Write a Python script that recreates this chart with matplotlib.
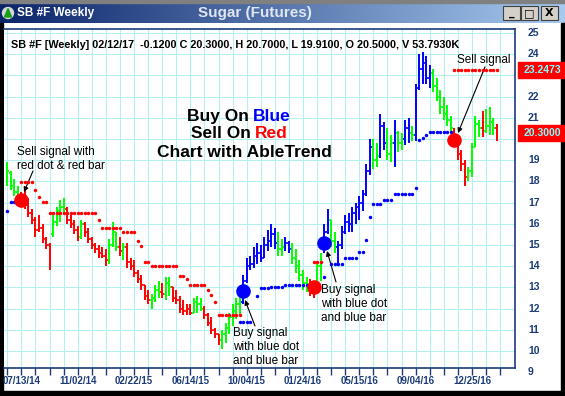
import numpy as np
import matplotlib
matplotlib.use('Agg')
import matplotlib.pyplot as plt
from matplotlib.patches import Rectangle, Circle, Polygon
import matplotlib.transforms as mtransforms

plt.rcParams['font.family'] = ['Liberation Sans', 'DejaVu Sans']

# ---------------- data ----------------
opens = [17.9, 18.4, 17.8, 17.5, 17.3, 17.0, 16.9, 16.5, 16.2, 15.7,
         15.8, 15.3, 15.0, 15.5, 16.1, 16.6, 16.8, 16.7, 16.2, 16.0,
         15.7, 15.4, 16.0, 15.6, 15.3, 15.0, 14.8, 14.6, 14.5, 14.3,
         15.0, 15.6, 14.9, 14.7, 14.9, 14.2, 14.0, 13.7, 13.4, 13.1,
         12.6, 12.4, 12.5, 12.9, 12.8, 12.7, 13.2, 13.0, 12.5, 12.4,
         12.0, 11.9, 12.0, 11.8, 12.3, 12.2, 12.0, 11.7, 11.3, 11.0,
         10.8, 10.5, 10.8, 11.1, 11.6, 11.9, 12.2, 12.3, 13.3, 14.0,
         14.1, 14.5, 14.6, 14.4, 15.0, 15.2, 15.5, 15.1, 14.8, 14.9,
         15.1, 14.8, 14.4, 14.0, 13.6, 13.2, 13.1, 12.8, 12.9, 14.0,
         14.8, 15.6, 16.2, 15.2, 14.9, 15.0, 15.6, 16.1, 16.0, 16.5,
         16.8, 17.0, 17.4, 18.5, 19.6, 19.0, 19.2, 20.6, 19.8, 19.3,
         19.8, 20.3, 19.8, 20.0, 20.5, 20.3, 20.2, 22.4, 23.3, 23.6,
         22.9, 23.1, 22.5, 22.0, 21.5, 21.2, 20.9, 20.4, 19.8, 19.3,
         18.8, 18.2, 18.5, 19.6, 20.7, 20.5, 20.4, 20.6, 20.8, 20.5]
highs = [18.9, 18.5, 18.1, 17.8, 17.5, 17.6, 17.2, 16.7, 16.3, 16.4,
         16.0, 15.4, 15.1, 16.4, 16.8, 17.1, 17.2, 16.8, 16.4, 16.2,
         15.9, 16.2, 16.1, 15.8, 15.4, 15.1, 15.0, 14.9, 14.8, 15.3,
         16.1, 15.6, 15.4, 15.1, 15.1, 14.4, 14.3, 13.8, 13.6, 13.1,
         12.9, 12.7, 13.1, 13.3, 13.2, 13.5, 13.5, 13.0, 12.9, 12.6,
         12.4, 12.2, 12.2, 12.5, 12.6, 12.5, 12.1, 11.8, 11.6, 11.1,
         10.8, 11.0, 11.3, 11.8, 12.2, 12.5, 12.6, 13.6, 14.4, 14.5,
         14.9, 15.1, 15.0, 15.4, 15.7, 16.0, 15.8, 15.6, 15.3, 15.4,
         15.2, 15.1, 14.8, 14.3, 13.8, 13.5, 13.4, 13.3, 14.2, 14.6,
         16.0, 16.7, 16.2, 15.6, 15.2, 15.9, 16.4, 16.5, 16.8, 17.0,
         17.3, 17.6, 18.8, 20.0, 20.0, 19.8, 21.2, 20.8, 20.5, 20.2,
         20.9, 20.4, 20.3, 20.9, 21.0, 20.6, 22.6, 24.0, 24.1, 23.9,
         23.5, 23.3, 22.9, 22.3, 22.0, 21.6, 21.1, 20.5, 20.1, 19.5,
         19.0, 18.7, 19.8, 21.1, 20.9, 21.3, 21.4, 21.5, 21.0, 20.7]
lows = [17.8, 17.6, 17.3, 17.1, 16.8, 16.7, 16.3, 16.0, 15.4, 15.6,
        15.1, 14.8, 13.8, 15.4, 15.9, 16.1, 16.4, 16.0, 15.8, 15.5,
        15.2, 15.3, 15.4, 15.1, 14.8, 14.6, 14.4, 14.4, 14.0, 14.1,
        14.9, 14.7, 14.5, 14.3, 13.9, 13.8, 13.5, 13.2, 12.9, 12.4,
        12.2, 12.0, 12.3, 12.5, 12.5, 12.4, 12.6, 12.3, 12.2, 11.8,
        11.7, 11.7, 11.7, 11.8, 11.8, 11.9, 11.5, 11.2, 10.8, 10.6,
        10.3, 10.1, 10.4, 10.8, 11.2, 11.5, 11.7, 12.2, 13.2, 13.8,
        13.9, 14.1, 14.2, 14.4, 14.7, 14.9, 14.8, 14.5, 14.5, 14.7,
        14.6, 14.1, 13.7, 13.3, 12.9, 12.8, 12.6, 12.5, 12.9, 13.3,
        14.6, 15.5, 14.9, 14.6, 14.0, 14.8, 15.5, 15.6, 15.6, 16.0,
        16.2, 16.6, 17.3, 18.3, 18.6, 18.7, 19.1, 19.5, 19.0, 18.9,
        18.7, 19.4, 19.5, 19.7, 19.8, 19.9, 19.9, 22.3, 22.6, 22.6,
        22.4, 22.2, 21.8, 21.2, 20.9, 20.6, 20.3, 19.6, 19.0, 18.5,
        17.8, 18.0, 18.2, 19.6, 20.1, 20.1, 20.3, 20.2, 20.2, 19.91]
closes = [18.5, 17.8, 17.5, 17.3, 17.0, 16.9, 16.5, 16.2, 15.7, 15.8,
          15.3, 15.0, 14.0, 16.1, 16.6, 16.8, 16.7, 16.2, 16.0, 15.7,
          15.4, 16.0, 15.6, 15.3, 15.0, 14.8, 14.6, 14.5, 14.3, 15.0,
          15.6, 14.9, 14.7, 14.9, 14.2, 14.0, 13.7, 13.4, 13.1, 12.6,
          12.4, 12.5, 12.9, 12.8, 12.7, 13.2, 13.0, 12.5, 12.4, 12.0,
          11.9, 12.0, 11.8, 12.3, 12.2, 12.0, 11.7, 11.3, 11.0, 10.8,
          10.5, 10.8, 11.1, 11.6, 11.9, 12.2, 12.3, 13.3, 14.0, 14.1,
          14.5, 14.6, 14.4, 15.0, 15.2, 15.5, 15.1, 14.8, 14.9, 15.1,
          14.8, 14.4, 14.0, 13.6, 13.2, 13.1, 12.8, 12.9, 14.0, 14.4,
          15.6, 16.2, 15.2, 14.9, 15.0, 15.6, 16.1, 16.0, 16.5, 16.8,
          17.0, 17.4, 18.5, 19.6, 19.0, 19.2, 20.6, 19.8, 19.3, 19.8,
          20.3, 19.8, 20.0, 20.5, 20.3, 20.2, 22.4, 23.3, 23.6, 22.9,
          23.1, 22.5, 22.0, 21.5, 21.2, 20.9, 20.5, 19.8, 19.3, 18.8,
          18.2, 18.5, 19.6, 20.7, 20.5, 20.4, 20.6, 20.8, 20.5, 20.3]
# bar colour per week: g = neutral (green), r = down (red), b = up (blue)
bar_colors = ("gggg" "rrrrrrrrr" "gggg" "rrrr" "g" "rrrrrrr" "ggg" "r" "g" "rrrrrrr"
              "ggg" "r" "gg" "rrrrrr" "ggg" "rrrrr" "gggggg" "bbbbbbbbbb" "gg" "bb"
              "ggggg" "rr" "gg" "bb" "gg" "bbbbbbbbbb" "gg" "bb" "gg" "b" "gg" "bb" "g"
              "bbbbb" "gggggg" "rrrr" "gggg" "r" "ggg" "r")
# AbleTrend stop dots: (first week, last week, level)
red_stops = [(4, 7, 17.95), (8, 8, 17.6), (9, 9, 17.25), (10, 11, 17.05), (12, 25, 16.5),
             (26, 26, 16.2), (27, 32, 15.8), (33, 36, 15.6), (37, 37, 15.2), (38, 38, 14.95),
             (39, 40, 14.2), (41, 48, 14.0), (49, 50, 13.55), (51, 51, 13.4), (52, 56, 13.1),
             (57, 57, 12.9), (58, 58, 12.65), (59, 59, 12.3), (60, 66, 11.7), (87, 89, 14.2),
             (127, 139, 23.25)]
blue_stops = [(0, 0, 16.6), (1, 2, 17.05), (66, 69, 11.35), (71, 71, 12.6), (72, 74, 12.95),
              (75, 78, 13.0), (79, 85, 13.1), (90, 90, 13.5), (92, 95, 14.1), (96, 99, 14.4),
              (100, 101, 14.65), (102, 102, 15.25), (103, 103, 16.3), (104, 106, 16.95),
              (107, 109, 17.1), (110, 115, 17.4), (116, 116, 17.7), (117, 117, 19.95),
              (118, 118, 20.05), (119, 119, 20.2), (120, 126, 20.35)]
# big signal dots
sig_idx = [4, 67, 87, 90, 127]
sig_val = [17.1, 12.85, 13.0, 15.1, 19.95]
sig_col = ['r', 'b', 'r', 'b', 'r']
# axes
tick_weeks = list(range(0, 141, 4))
label_weeks = [4, 20, 36, 52, 68, 84, 100, 116, 132]
x_labels = ['07/13/14', '11/02/14', '02/22/15', '06/14/15', '10/04/15',
            '01/24/16', '05/15/16', '09/04/16', '12/25/16']
grid_values = list(range(10, 26))
y_labels = [9, 10, 11, 12, 13, 14, 15, 16, 17, 18, 19, 21, 22, 24, 25]  # 20 and 23 hidden under boxes
price_boxes = [23.2473, 20.3000]
header = "SB #F [Weekly] 02/12/17  -0.1200 C 20.3000, H 20.7000, L 19.9100, O 20.5000, V 53.7930K"

# ---------------- styles ----------------
COL = {'r': '#ff0000', 'g': '#00ff00', 'b': '#0000ff'}
NAVY = '#1b3c78'
GRID = '#b4f0f0'
W, H = 565, 396

fig = plt.figure(figsize=(W / 100, H / 100), dpi=100)
fig.patch.set_facecolor('white')

# chrome layer in pixel coordinates
ch = fig.add_axes([0, 0, 1, 1], zorder=0)
ch.set_xlim(0, W)
ch.set_ylim(H, 0)
ch.axis('off')

# plot area
L_, R_, T_, B_ = 4, 515, 29, 368
X0, DX = 7.3, 3.52
V0, Y0, DY = 25.0, 33.0, 21.2
ax = fig.add_axes([L_ / W, 1 - B_ / H, (R_ - L_) / W, (B_ - T_) / H], zorder=1)
ax.set_facecolor('white')
ax.set_xlim((L_ - X0) / DX, (R_ - X0) / DX)
ax.set_ylim(V0 - (B_ - Y0) / DY, V0 - (T_ - Y0) / DY)


def P(x, y):
    return ((x - X0) / DX, V0 - (y - Y0) / DY)


# grid
ax.set_yticks(grid_values)
ax.tick_params(axis='y', length=0, labelleft=False, labelright=False)
ax.set_xticks(tick_weeks)
ax.set_xticklabels([x_labels[label_weeks.index(t)] if t in label_weeks else '' for t in tick_weeks])
ax.tick_params(axis='x', length=5, width=1, color=NAVY, direction='out', pad=1,
               labelsize=7, labelcolor=NAVY)
for lbl in ax.get_xticklabels():
    lbl.set_fontweight('bold')
ax.grid(True, color=GRID, lw=0.8, zorder=0)
ax.set_axisbelow(True)
for s in ['top', 'right', 'bottom']:
    ax.spines[s].set_color(NAVY)
    ax.spines[s].set_linewidth(1.2)
ax.spines['left'].set_visible(False)

# bars
n = len(closes)
idx = np.arange(n)
cols = [COL[c] for c in bar_colors]
ax.vlines(idx, lows, highs, colors=cols, lw=1.4, zorder=3)
ax.hlines(opens, idx - 0.5, idx, colors=cols, lw=1.2, zorder=3)
ax.hlines(closes, idx, idx + 0.5, colors=cols, lw=1.2, zorder=3)

# stops
for segs, c in [(red_stops, 'r'), (blue_stops, 'b')]:
    xs, ys = [], []
    for a, b, v in segs:
        for k in range(a, b + 1):
            xs.append(k)
            ys.append(v)
    ax.plot(xs, ys, 'o', ms=2.5, color=COL[c], mew=0, zorder=4)

# signal dots
for k, v, c in zip(sig_idx, sig_val, sig_col):
    ax.plot([k], [v], 'o', ms=10.5, color=COL[c], mew=0, zorder=5)

# header text
ax.text(*P(11, 48), header, fontsize=7.8, fontweight='bold', color='black', va='baseline', ha='left')

# headline
ax.text(*P(249, 120.5), "Buy On", fontsize=12.5, fontweight='bold', ha='right', va='baseline')
ax.text(*P(253, 120.5), "Blue", fontsize=12.5, fontweight='bold', color='#0000ff', ha='left', va='baseline')
ax.text(*P(251, 138.5), "Sell On", fontsize=12.5, fontweight='bold', ha='right', va='baseline')
ax.text(*P(255, 138.5), "Red", fontsize=12.5, fontweight='bold', color='#ff0000', ha='left', va='baseline')
ax.text(*P(244, 157), "Chart with AbleTrend", fontsize=12.5, fontweight='bold', ha='center', va='baseline')

# annotations
AFS = 8.5
arrow = dict(arrowstyle='-|>', color='black', lw=0.8, mutation_scale=7, shrinkA=0, shrinkB=0)
ax.text(*P(17, 155.5), "Sell signal with", fontsize=AFS, va='baseline')
ax.text(*P(17, 169), "red dot & red bar", fontsize=AFS, va='baseline')
ax.annotate('', xy=P(24, 192), xytext=P(33, 171), arrowprops=arrow)

for i, t in enumerate(["Buy signal", "with blue dot", "and blue bar"]):
    ax.text(*P(233, 336 + 14 * i), t, fontsize=AFS, va='baseline')
ax.annotate('', xy=P(245, 300), xytext=P(255, 326), arrowprops=arrow)

for i, t in enumerate(["Buy signal", "with blue dot", "and blue bar"]):
    ax.text(*P(321, 293 + 14 * i), t, fontsize=AFS, va='baseline', clip_on=True)
ax.annotate('', xy=P(327, 251), xytext=P(336, 282), arrowprops=arrow)

ax.text(*P(457, 63.5), "Sell signal", fontsize=AFS, va='baseline')
ax.annotate('', xy=P(458, 133), xytext=P(485, 67), arrowprops=arrow)

# right axis labels and price boxes
bt = mtransforms.blended_transform_factory(ch.transData, ax.transData)
for v in y_labels:
    ch.text(528, v, str(v), transform=bt, fontsize=7.5, fontweight='bold', color=NAVY,
            va='center', ha='left', clip_on=False)
for v in price_boxes:
    ch.add_patch(Rectangle((518, v - 0.38), 47, 0.76, transform=bt, color='#ff0000', zorder=5, clip_on=False))
    ch.text(542, v, f"{v:.4f}", transform=bt, fontsize=7.5, fontweight='bold', color='#7fffff',
            va='center', ha='center', zorder=6, clip_on=False)

# window chrome: title bar gradient
grad = np.linspace(0, 1, 256)[None, :]
c0 = np.array([10, 36, 106]) / 255.0
c1 = np.array([166, 202, 240]) / 255.0
img = c0[None, None, :] * (1 - grad[..., None]) + c1[None, None, :] * grad[..., None]
ch.imshow(img, extent=[0, W, 23, 3], aspect='auto', zorder=1)
ch.add_patch(Rectangle((0, 0), W, 3, color='#808080', zorder=2))
ch.text(17, 13, "SB #F Weekly", fontsize=8.5, fontweight='bold', color='white', va='center', ha='left', zorder=3)
ch.text(255, 13, "Sugar (Futures)", fontsize=11, fontweight='bold', color='#dfe6f2', va='center', ha='center', zorder=3)
ch.add_patch(Circle((8, 13), 5.5, color='#d8d8d8', zorder=3))
ch.add_patch(Polygon([[4.5, 17], [8, 8.5], [11.5, 17]], closed=True, color='#18a018', zorder=4))
for bx, sym in [(503, '_'), (521, '□'), (541, 'X')]:
    ch.add_patch(Rectangle((bx, 6), 17, 14, facecolor='#d4d0c8', edgecolor='#404040', lw=0.8, zorder=3))
    ch.text(bx + 8.5, 13.5, sym, fontsize=8, fontweight='bold', color='black', va='center', ha='center',
            zorder=4, family='DejaVu Sans')
# borders
ch.add_patch(Rectangle((0, 23), 3, H - 23, color='black', zorder=2))
ch.add_patch(Rectangle((0, 391), W, 5, color='black', zorder=2))
ch.add_patch(Rectangle((561, 23), 4, H - 23, color='black', zorder=2))

fig.savefig('out.png', dpi=100, facecolor='white')
